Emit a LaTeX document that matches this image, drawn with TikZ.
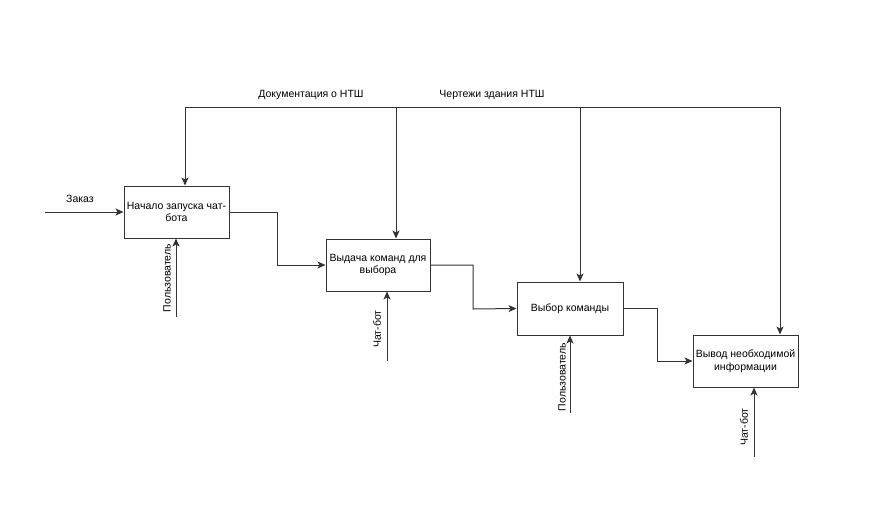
\documentclass[tikz,border=0pt]{standalone}
\usepackage{fontspec}
\setmainfont{Liberation Sans}
\usetikzlibrary{arrows.meta}
\begin{document}
\begin{tikzpicture}[x=1pt,y=-1pt,
  line/.style={draw=black!80, line width=1pt},
  arr/.style={line, -{Stealth[length=8pt,width=7pt,inset=2pt]}},
  funcbox/.style={draw=black!80, line width=1pt, fill=white, minimum width=105pt,
    minimum height=52pt, inner sep=1pt, align=center, font=\fontsize{10.5}{12.5}\selectfont},
  lbl/.style={font=\fontsize{10.5}{12.5}\selectfont, inner sep=1pt},
  vlbl/.style={lbl, rotate=90}]
\useasboundingbox[fill=white] (0,0) rectangle (869,504);

% function blocks
\node[funcbox] (b1) at (176.5,212) {Начало запуска чат-\\бота};
\node[funcbox, minimum width=104pt] (b2) at (378,265) {Выдача команд для\\выбора};
\node[funcbox, minimum width=106pt, minimum height=53pt] (b3) at (570,308.5) {Выбор команды};
\node[funcbox] (b4) at (745.5,361) {Вывод необходимой\\информации};

% control bus along the top
\coordinate (t1) at (185,107);
\coordinate (t2) at (396,107);
\coordinate (t3) at (580,107);
\coordinate (t4) at (780,107);
\draw[arr] (t4) -- (t1) -- (t1 |- b1.north);
\draw[arr] (t2) -- (t2 |- b2.north);
\draw[arr] (t3) -- (t3 |- b3.north);
\draw[arr] (t4) -- (t4 |- b4.north);
\node[lbl] (docs) at (311,95) {Документация о НТШ};
\node[lbl] (plans) at (492,95) {Чертежи здания НТШ};

% input
\coordinate (in1) at (45,212);
\draw[arr] (in1) -- (b1.west);
\node[lbl] (order) at (80,199) {Заказ};

% outputs feeding the next block
\draw[arr] (b1.east) -| (277,265) -- (b2.west);
\draw[arr] (b2.east) -| (473,309) -- (b3.west);
\draw[arr] (b3.east) -| (657,361) -- (b4.west);

% mechanisms
\coordinate (m1) at (176,317);
\coordinate (m2) at (387,361);
\coordinate (m3) at (570,413);
\coordinate (m4) at (754,457);
\draw[arr] (m1) -- (m1 |- b1.south);
\draw[arr] (m2) -- (m2 |- b2.south);
\draw[arr] (m3) -- (m3 |- b3.south);
\draw[arr] (m4) -- (m4 |- b4.south);
\node[vlbl] (user1) at (167,278) {Пользователь};
\node[vlbl] (bot1) at (377,329) {Чат-бот};
\node[vlbl] (user2) at (562,377) {Пользователь};
\node[vlbl] (bot2) at (744,427) {Чат-бот};
\end{tikzpicture}
\end{document}
